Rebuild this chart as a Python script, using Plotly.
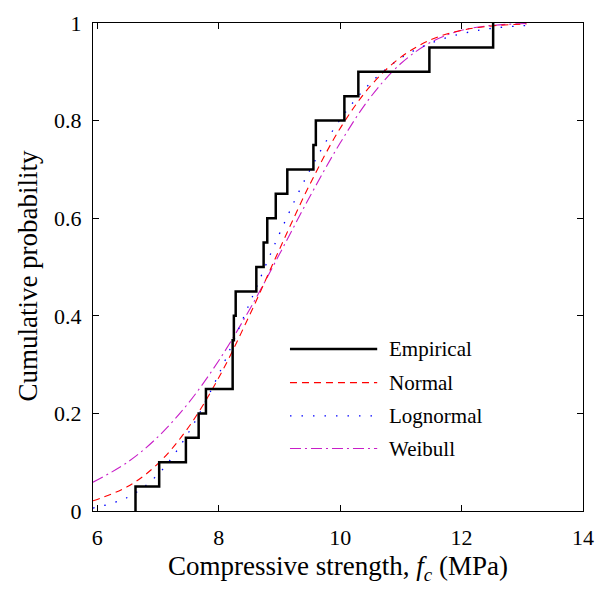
import plotly.graph_objects as go

# Empirical CDF (ordered strength values, MPa) and its cumulative probability
emp_strength = [6.63, 6.63, 7.02, 7.46, 7.67, 7.79, 8.23, 8.23, 8.25, 8.28, 8.62,
                8.74, 8.80, 8.94, 9.13, 9.56, 9.60, 10.07, 10.30, 11.47, 12.52]
emp_prob = [0.0, 0.05, 0.10, 0.15, 0.20, 0.25, 0.30, 0.35, 0.40, 0.45, 0.50,
            0.55, 0.60, 0.65, 0.70, 0.75, 0.80, 0.85, 0.90, 0.95, 1.0]

# fitted distributions
fit_x = [5.93, 6.5, 7.0, 7.5, 8.0, 8.5, 9.0, 9.5, 10.0, 10.5, 11.0, 11.5, 12.0, 12.5, 13.07]
normal_p = [0.021, 0.050, 0.097, 0.171, 0.273, 0.399, 0.536, 0.669, 0.784, 0.871,
            0.930, 0.966, 0.985, 0.994, 0.998]
lognormal_p = [0.006, 0.028, 0.075, 0.160, 0.280, 0.423, 0.568, 0.698, 0.802, 0.877,
               0.928, 0.959, 0.978, 0.989, 0.995]
weibull_p = [0.059, 0.100, 0.152, 0.221, 0.308, 0.411, 0.526, 0.644, 0.754, 0.848,
             0.917, 0.961, 0.985, 0.995, 0.999]

x_ticks = [6, 8, 10, 12, 14]
y_ticks = [0, 0.2, 0.4, 0.6, 0.8, 1]

FONT = "Liberation Serif, Times New Roman, serif"
MAGENTA = "#c81ec8"

styles = [
    ("Empirical", "black", 2.5, "solid"),
    ("Normal", "red", 1.1, "7px,5px"),
    ("Lognormal", "blue", 1.3, "1.5px,10px"),
    ("Weibull", MAGENTA, 1.1, "11px,4px,2px,4px"),
]

fig = go.Figure()

fig.add_trace(go.Scatter(x=fit_x, y=weibull_p, mode="lines", name="Weibull",
                         line=dict(color=MAGENTA, width=1.1, dash="11px,4px,2px,4px", shape="spline"),
                         showlegend=False))
fig.add_trace(go.Scatter(x=fit_x, y=lognormal_p, mode="lines", name="Lognormal",
                         line=dict(color="blue", width=1.3, dash="1.5px,10px", shape="spline"),
                         showlegend=False))
fig.add_trace(go.Scatter(x=fit_x, y=normal_p, mode="lines", name="Normal",
                         line=dict(color="red", width=1.1, dash="7px,5px", shape="spline"),
                         showlegend=False))
fig.add_trace(go.Scatter(x=emp_strength, y=emp_prob, mode="lines", name="Empirical",
                         line=dict(color="black", width=2.5, shape="hv"),
                         showlegend=False))

# legend drawn by hand so the line samples are long like the original
legend_y = [0.332, 0.263, 0.195, 0.128]
for (name, color, width, dash), ly in zip(styles, legend_y):
    fig.add_shape(type="line", xref="paper", yref="paper", x0=0.402, x1=0.58, y0=ly, y1=ly,
                  line=dict(color=color, width=width, dash=dash))
    fig.add_annotation(xref="paper", yref="paper", x=0.60, y=ly, text=name, showarrow=False,
                       xanchor="left", yanchor="middle", font=dict(family=FONT, size=21, color="black"))

# axis titles
fig.add_annotation(xref="paper", yref="paper", x=0.5, y=-0.117,
                   text="Compressive strength, <i>f<sub>c</sub></i> (MPa)", showarrow=False,
                   xanchor="center", yanchor="middle", font=dict(family=FONT, size=27, color="black"))
fig.add_annotation(xref="paper", yref="paper", x=-0.133, y=0.482, text="Cumulative probability",
                   textangle=-90, showarrow=False, xanchor="center", yanchor="middle",
                   font=dict(family=FONT, size=27, color="black"))

axis_common = dict(showgrid=False, zeroline=False, showline=True, linecolor="black", linewidth=1.3,
                   mirror="ticks", ticks="inside", ticklen=6, tickwidth=1, tickcolor="black",
                   automargin=False, tickfont=dict(family=FONT, size=22, color="black"))

fig.update_layout(
    width=600, height=593,
    margin=dict(l=93, r=17, t=23, b=82),
    plot_bgcolor="white", paper_bgcolor="white",
    xaxis=dict(range=[5.93, 14], tickvals=x_ticks, ticklabelstandoff=6, **axis_common),
    yaxis=dict(range=[0, 1], tickvals=y_ticks, ticklabelstandoff=6, **axis_common),
)

# the page body has a default 8px margin; drop it so the figure fills the window
fig.write_html("out.html", config={"displayModeBar": False},
               post_script="document.body.style.margin = '0';")
